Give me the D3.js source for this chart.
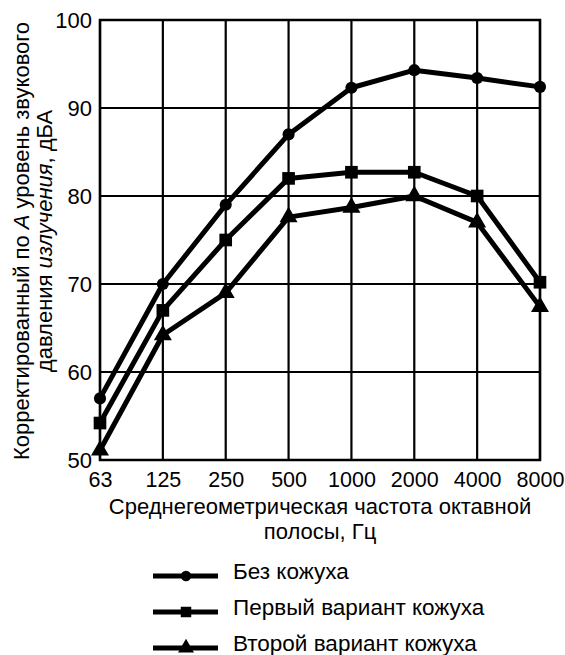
<!DOCTYPE html>
<html>
<head>
<meta charset="utf-8">
<script src="https://cdn.jsdelivr.net/npm/d3@7"></script>
<style>
  body { margin: 0; background: #fff; }
  svg text { font-family: "Liberation Sans", Arial, sans-serif; fill: #000; }
</style>
</head>
<body>
<div id="chart"></div>
<script>
const frequencies = ['63', '125', '250', '500', '1000', '2000', '4000', '8000'];
const yTicks = [50, 60, 70, 80, 90, 100];

const noCasing = [57, 70, 79, 87, 92.3, 94.3, 93.4, 92.4];
const firstCasing = [54.2, 67, 75, 82, 82.7, 82.7, 80, 70.2];
const secondCasing = [51.1, 64.2, 69, 77.6, 78.7, 80, 77, 67.4];

const series = [
  { name: 'Без кожуха', values: noCasing, marker: 'circle' },
  { name: 'Первый вариант кожуха', values: firstCasing, marker: 'square' },
  { name: 'Второй вариант кожуха', values: secondCasing, marker: 'triangle' }
];

const width = 565, height = 655;
const margin = { top: 20, left: 100, right: 25, bottom: 195 };
const plotW = width - margin.left - margin.right;
const plotH = height - margin.top - margin.bottom;
const FONT = '"Liberation Sans", Arial, sans-serif';

const svg = d3.select('#chart').append('svg')
  .attr('width', width)
  .attr('height', height);

const x = d3.scalePoint().domain(frequencies).range([0, plotW]);
const y = d3.scaleLinear().domain([50, 100]).range([plotH, 0]);

const g = svg.append('g').attr('transform', `translate(${margin.left},${margin.top})`);

// grid
g.append('g')
  .selectAll('line')
  .data(frequencies)
  .join('line')
  .attr('x1', d => x(d)).attr('x2', d => x(d))
  .attr('y1', 0).attr('y2', plotH)
  .attr('stroke', '#000').attr('stroke-width', 2.2);

g.append('g')
  .selectAll('line')
  .data(yTicks)
  .join('line')
  .attr('x1', 0).attr('x2', plotW)
  .attr('y1', d => y(d)).attr('y2', d => y(d))
  .attr('stroke', '#000').attr('stroke-width', 2.2);

g.append('rect')
  .attr('width', plotW).attr('height', plotH)
  .attr('fill', 'none').attr('stroke', '#000').attr('stroke-width', 2.5);

// tick labels
const xAxis = g.append('g')
  .attr('transform', `translate(0,${plotH})`)
  .call(d3.axisBottom(x).tickSize(0).tickPadding(12));
xAxis.select('.domain').remove();
xAxis.selectAll('text').attr('font-size', 21.5).attr('font-family', FONT).attr('fill', '#000');

const yAxis = g.append('g')
  .call(d3.axisLeft(y).tickValues(yTicks).tickSize(0).tickPadding(8));
yAxis.select('.domain').remove();
yAxis.selectAll('text').attr('font-size', 22).attr('font-family', FONT).attr('fill', '#000');

// lines
const line = d3.line()
  .x((d, i) => x(frequencies[i]))
  .y(d => y(d));

const sym = {
  circle: d3.symbol().type(d3.symbolCircle).size(115),
  square: d3.symbol().type(d3.symbolSquare).size(160),
  triangle: d3.symbol().type(d3.symbolTriangle).size(140)
};
const legendSym = {
  circle: d3.symbol().type(d3.symbolCircle).size(85),
  square: d3.symbol().type(d3.symbolSquare).size(110),
  triangle: d3.symbol().type(d3.symbolTriangle).size(110)
};

series.forEach(s => {
  g.append('path')
    .datum(s.values)
    .attr('d', line)
    .attr('fill', 'none')
    .attr('stroke', '#000')
    .attr('stroke-width', 5)
    .attr('stroke-linejoin', 'round');

  g.append('g')
    .selectAll('path')
    .data(s.values)
    .join('path')
    .attr('d', sym[s.marker])
    .attr('transform', (d, i) => `translate(${x(frequencies[i])},${y(d)})`)
    .attr('fill', '#000');
});

// x title
svg.append('text')
  .attr('x', 320).attr('y', 514)
  .attr('text-anchor', 'middle')
  .attr('font-size', 22)
  .text('Среднегеометрическая частота октавной');
svg.append('text')
  .attr('x', 320).attr('y', 539)
  .attr('text-anchor', 'middle')
  .attr('font-size', 22)
  .text('полосы, Гц');

// y title
const yTitle = svg.append('text')
  .attr('transform', 'translate(29,241) rotate(-90)')
  .attr('text-anchor', 'middle')
  .attr('font-size', 22);
yTitle.append('tspan').text('Корректированный по ');
yTitle.append('tspan').attr('font-style', 'italic').text('А');
yTitle.append('tspan').text(' уровень звукового');
const yTitle2 = svg.append('text')
  .attr('transform', 'translate(52,241) rotate(-90)')
  .attr('text-anchor', 'middle')
  .attr('font-size', 22);
yTitle2.append('tspan').text('давления ');
yTitle2.append('tspan').attr('font-style', 'italic').text('излучения');
yTitle2.append('tspan').text(', дБА');

// legend
const legend = svg.append('g').attr('transform', 'translate(153,576)');
series.forEach((s, i) => {
  const row = legend.append('g').attr('transform', `translate(0,${i * 36})`);
  row.append('line')
    .attr('x1', 0).attr('x2', 65)
    .attr('stroke', '#000').attr('stroke-width', 5);
  row.append('path')
    .attr('d', legendSym[s.marker])
    .attr('transform', 'translate(33,0)')
    .attr('fill', '#000');
  row.append('text')
    .attr('x', 80).attr('y', 3)
    .attr('font-size', 22.5)
    .text(s.name);
});
</script>
</body>
</html>
